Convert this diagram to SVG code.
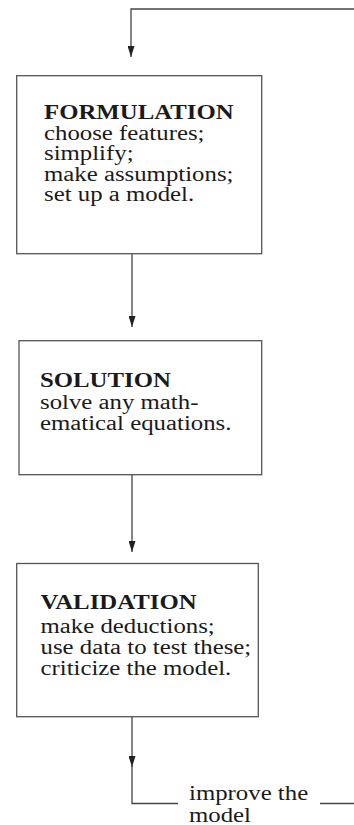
<svg xmlns="http://www.w3.org/2000/svg" width="354" height="825" viewBox="0 0 354 825">
<defs>
<style>
.box{fill:#fff;stroke:#555;stroke-width:1.3}
.ln{fill:none;stroke:#444;stroke-width:1.3}
.t{font-family:"Liberation Serif","Times New Roman",serif;font-size:20.5px;fill:#1a1a1a}
.b{font-weight:bold}
</style>
<marker id="ah" markerWidth="11" markerHeight="7" refX="11" refY="3.5" orient="auto" markerUnits="userSpaceOnUse" viewBox="0 0 11 7">
<path d="M0,0 L11,3.5 L0,7 Z" fill="#222"/>
</marker>
</defs>
<g id="connectors">
<path class="ln" d="M354,9 H131 V57" marker-end="url(#ah)"/>
<path class="ln" d="M132,254 V327" marker-end="url(#ah)"/>
<path class="ln" d="M132,475 V552" marker-end="url(#ah)"/>
<path class="ln" d="M132,717 V767" marker-end="url(#ah)"/>
<path class="ln" d="M132,766 V803.5 H178"/>
<path class="ln" d="M320,803.5 H354"/>
</g>
<g id="formulation">
<rect class="box" x="16.7" y="75.7" width="245" height="178"/>
<g transform="translate(44,0) scale(1.21,1)">
<text class="t b" x="0" y="119">FORMULATION</text>
<text class="t" x="0" y="140">choose features;</text>
<text class="t" x="0" y="160.5">simplify;</text>
<text class="t" x="0" y="181">make assumptions;</text>
<text class="t" x="0" y="201.5">set up a model.</text>
</g>
</g>
<g id="solution">
<rect class="box" x="19" y="340.7" width="242.7" height="134"/>
<g transform="translate(40,0) scale(1.21,1)">
<text class="t b" x="0" y="387">SOLUTION</text>
<text class="t" x="0" y="409">solve any math-</text>
<text class="t" x="0" y="430">ematical equations.</text>
</g>
</g>
<g id="validation">
<rect class="box" x="16.7" y="563.5" width="241.6" height="153.2"/>
<g transform="translate(40.5,0) scale(1.21,1)">
<text class="t b" x="0" y="609">VALIDATION</text>
<text class="t" x="0" y="633">make deductions;</text>
<text class="t" x="0" y="654">use data to test these;</text>
<text class="t" x="0" y="675">criticize the model.</text>
</g>
</g>
<g id="improve">
<g transform="translate(189,0) scale(1.21,1)">
<text class="t" x="0" y="800">improve the</text>
<text class="t" x="0" y="822">model</text>
</g>
</g>
</svg>
